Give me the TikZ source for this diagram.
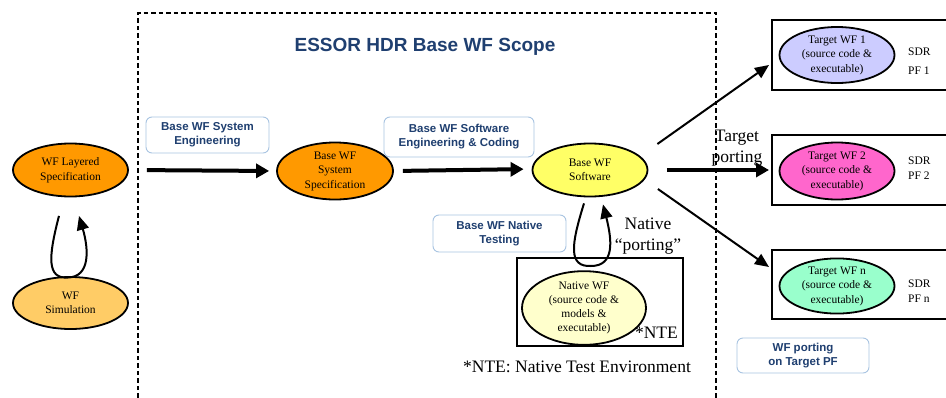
\documentclass[tikz,border=0pt]{standalone}
\usepackage{fontspec}
\setmainfont{Liberation Serif}
\setsansfont{Liberation Sans}
\usetikzlibrary{shapes.geometric,arrows.meta}
\definecolor{lblue}{RGB}{31,63,112}
\definecolor{lborder}{RGB}{168,196,226}
\definecolor{orangeA}{RGB}{255,153,0}
\definecolor{orangeB}{RGB}{255,204,102}
\definecolor{yellowA}{RGB}{255,255,102}
\definecolor{yellowB}{RGB}{255,255,204}
\definecolor{lav}{RGB}{204,204,255}
\definecolor{pinkA}{RGB}{255,102,204}
\definecolor{mint}{RGB}{153,255,204}
\begin{document}
\begin{tikzpicture}[x=1pt,y=-1pt,
  ell/.style={ellipse,draw,line width=1.8pt,inner sep=0pt,align=center,
    font=\fontsize{11.5}{14.5}\selectfont},
  lab/.style={draw=lborder,rounded corners=6pt,fill=white,line width=0.9pt,
    align=center,inner sep=0pt,text=lblue,
    font=\sffamily\bfseries\fontsize{11.5}{14}\selectfont},
  frame/.style={draw,line width=2pt,inner sep=0pt},
  big/.style={line width=4pt,-{Triangle[length=13pt,width=14pt]}},
  thinarr/.style={line width=2pt,-{Triangle[length=14pt,width=12pt]}},
  serifbig/.style={align=center,inner sep=0pt,font=\fontsize{17.5}{20.5}\selectfont},
  sdr/.style={align=left,anchor=west,inner sep=0pt},
]
\clip (0,0) rectangle (946,397);
\fill[white] (0,0) rectangle (946,397);

% scope frame
\draw[line width=1.6pt,dash pattern=on 4.5pt off 3pt] (138,420) -- (138,13) -- (716,13) -- (716,420);
\node[font=\sffamily\bfseries\fontsize{19}{22}\selectfont,text=lblue] (title) at (425,47) {ESSOR HDR Base WF Scope};

% left ellipses
\node[ell,fill=orangeA,minimum width=115pt,minimum height=53pt] (spec) at (70.5,170) {WF Layered\\Specification};
\node[ell,fill=orangeB,minimum width=115pt,minimum height=52pt] (sim) at (70.5,303) {WF\\Simulation};

% main chain
\node[ell,fill=orangeA,minimum width=116pt,minimum height=57pt] (sys) at (335,171) {Base WF\\System\\Specification};
\node[ell,fill=yellowA,minimum width=115pt,minimum height=53pt] (sw) at (590,170) {Base WF\\Software};

% labels
\node[lab,minimum width=123pt,minimum height=36pt] (lab1) at (207.5,135) {Base WF System\\Engineering};
\node[lab,minimum width=150pt,minimum height=40pt] (lab2) at (459,137) {Base WF Software\\Engineering \& Coding};
\node[lab,minimum width=133pt,minimum height=37pt] (lab3) at (499.5,233.5) {Base WF Native\\Testing};
\node[lab,minimum width=132pt,minimum height=35pt] (lab4) at (803,355.5) {WF porting\\on Target PF};

% NTE box
\node[frame,minimum width=166pt,minimum height=88pt] (nte) at (600,302) {};
\node[ell,fill=yellowB,minimum width=124pt,minimum height=70pt,font=\fontsize{11.5}{14}\selectfont] (native) at (584,308) {Native WF\\(source code \&\\models \&\\executable)};
\node[serifbig,anchor=base east] (ntemark) at (678,338) {*NTE};
\node[serifbig] (nteexp) at (577,367) {*NTE: Native Test Environment};
\node[serifbig] (natport) at (648,236) {Native\\“porting”};

% target boxes
\node[frame,minimum width=188pt,minimum height=70pt] (b1) at (866,55) {};
\node[frame,minimum width=188pt,minimum height=70pt] (b2) at (866,170) {};
\node[frame,minimum width=188pt,minimum height=69pt] (bn) at (866,284.5) {};
\node[ell,fill=lav,minimum width=115pt,minimum height=56pt] (t1) at (837,55) {Target WF 1\\(source code \&\\executable)};
\node[ell,fill=pinkA,minimum width=115pt,minimum height=57pt] (t2) at (837,171) {Target WF 2\\(source code \&\\executable)};
\node[ell,fill=mint,minimum width=115pt,minimum height=52pt] (tn) at (837,286) {Target WF n\\(source code \&\\executable)};
\node[sdr,font=\fontsize{11.5}{19}\selectfont] (sdr1) at (908,61) {SDR\\PF 1};
\node[sdr,font=\fontsize{11.5}{15}\selectfont] (sdr2) at (908,168) {SDR\\PF 2};
\node[sdr,font=\fontsize{11.5}{15}\selectfont] (sdrn) at (908,291) {SDR\\PF n};

% connectors
\draw[big,shorten <=18pt,shorten >=7pt] (spec.east) -- (sys.west);
\draw[big,shorten <=9pt,shorten >=8pt] (sys.east) -- ([yshift=1]sw.west);
\draw[big,shorten <=18.5pt,shorten >=2pt] (sw.east) -- (b2.west);
\draw[thinarr] ([shift={(9,-26)}]sw.east) -- ([shift={(-2,10)}]b1.west);
\draw[thinarr] ([shift={(9.5,19)}]sw.east) -- ([shift={(-2,-17.5)}]bn.west);
\node[serifbig] (tport) at (737,148) {Target\\porting};

% loops
\draw[thinarr] ([shift={(-11.5,18.5)}]spec.south) .. controls (48,258) and (47,279) .. (68,277.5)
  .. controls (90,277) and (89,250) .. ([shift={(8.5,18.5)}]spec.south);
\draw[thinarr] ([shift={(-6,6)}]sw.south) .. controls (571,245) and (568,267) .. (591,266)
  .. controls (615,266) and (612,240) .. ([shift={(13,7)}]sw.south);
\end{tikzpicture}
\end{document}
